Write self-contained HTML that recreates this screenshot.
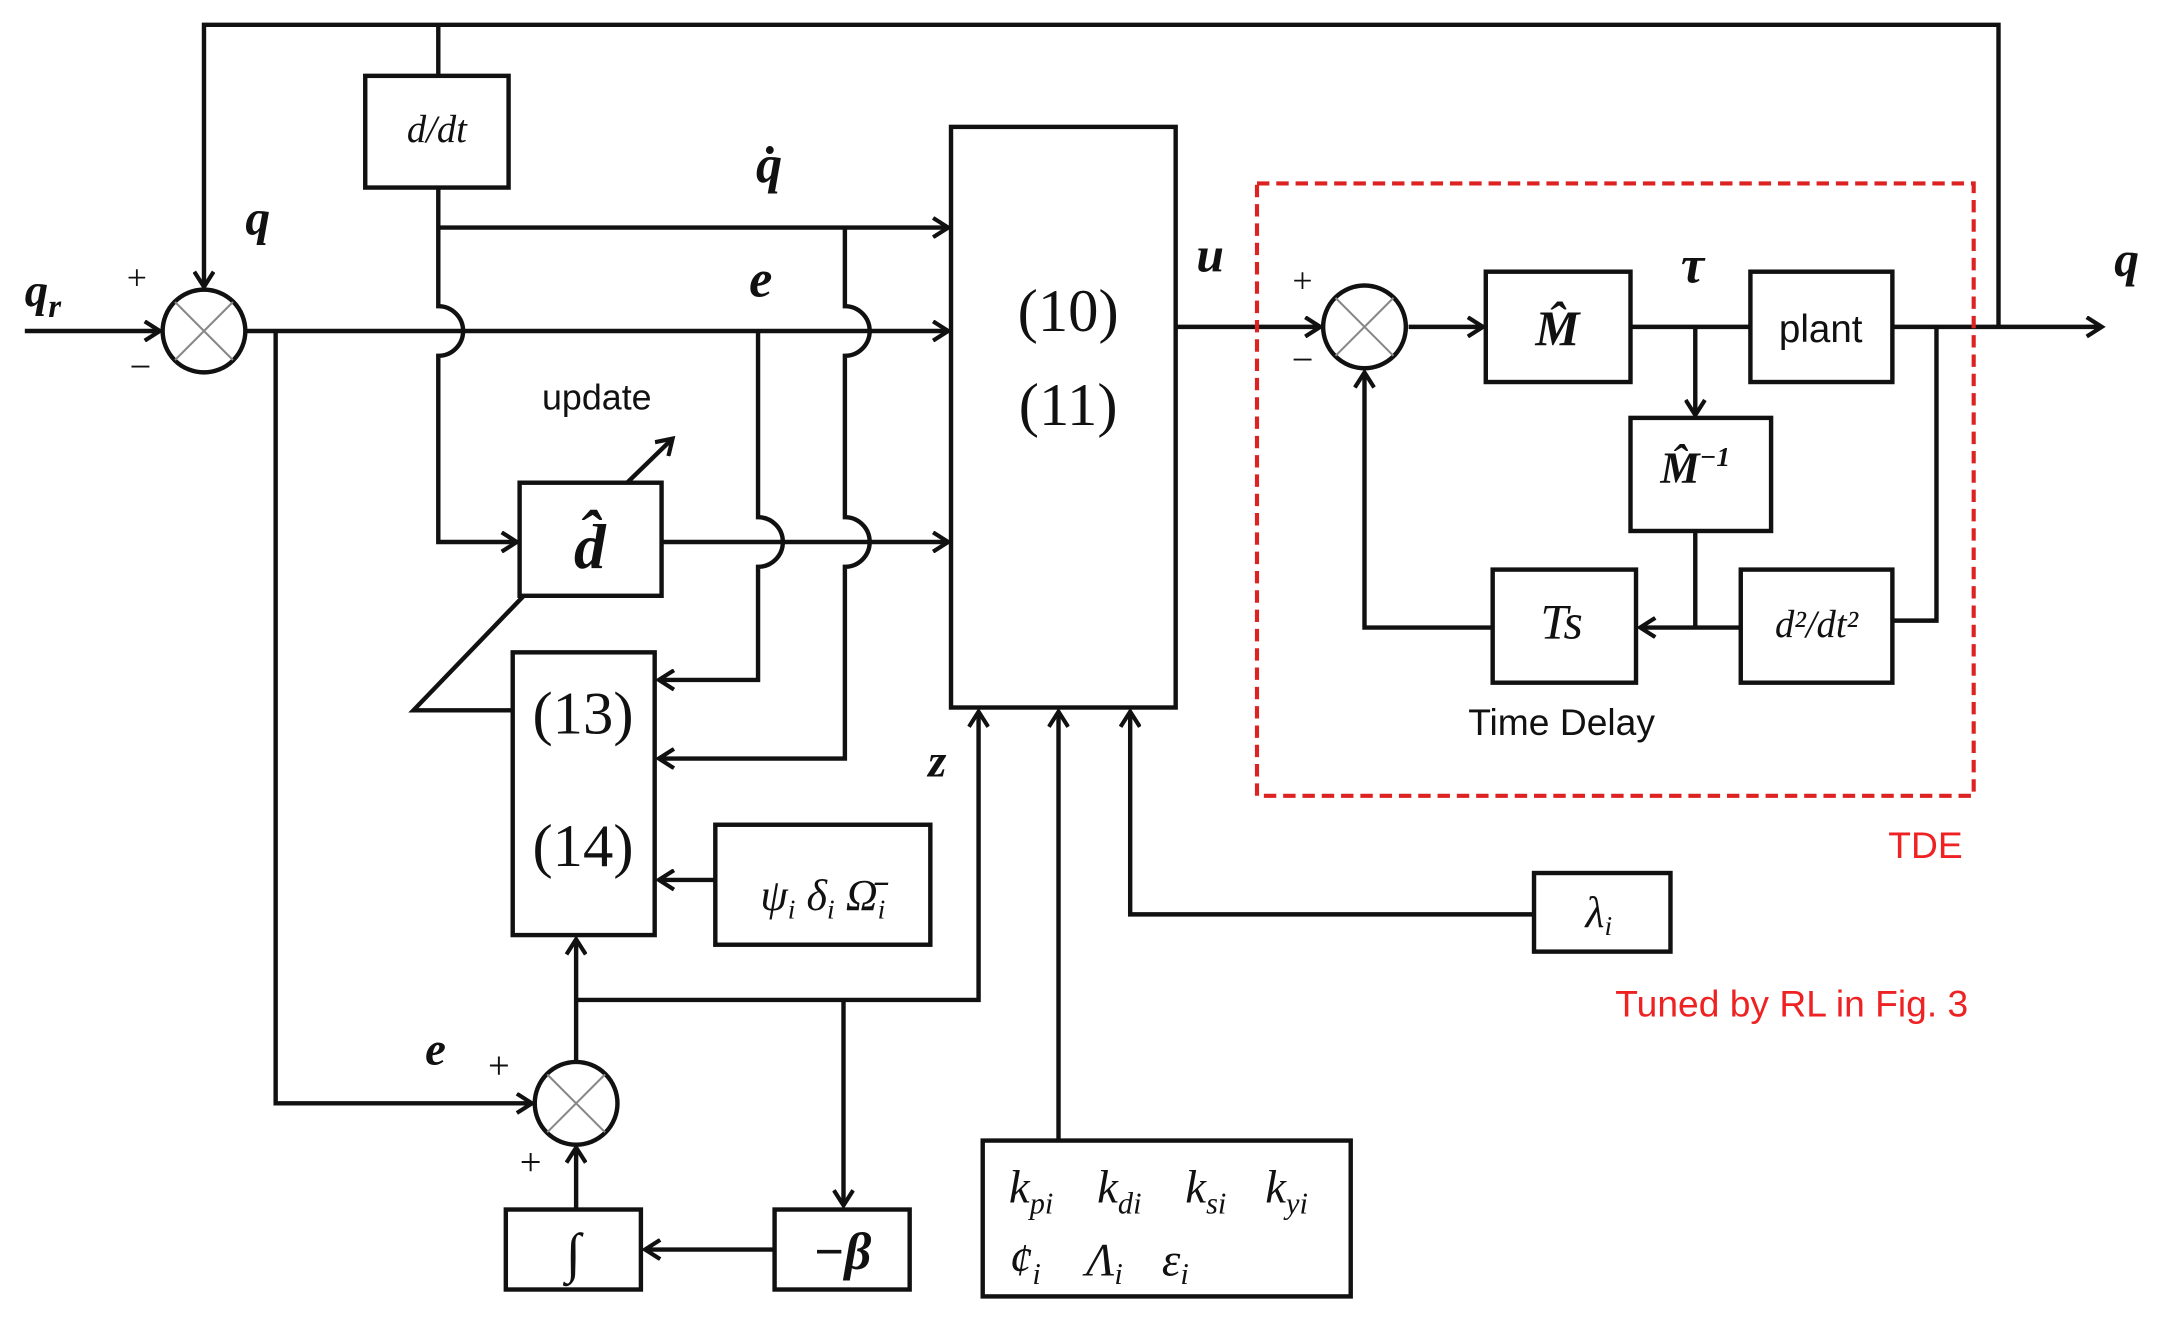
<!DOCTYPE html>
<html><head><meta charset="utf-8"><style>
html,body{margin:0;padding:0;background:#fff}
svg{display:block}
.m{font-family:"Liberation Serif",serif;font-style:italic;font-weight:bold}
.s{font-family:"Liberation Serif",serif}
.a{font-family:"Liberation Sans",sans-serif}
</style></head><body>
<svg width="2157" height="1324" viewBox="0 0 1565 960" preserveAspectRatio="none" xmlns="http://www.w3.org/2000/svg">
<defs><marker id="ar" markerWidth="16" markerHeight="16" refX="13" refY="8" orient="auto" markerUnits="userSpaceOnUse"><path d="M2,1 L13,8 L2,15" fill="none" stroke="#111" stroke-width="3"/></marker></defs>
<g fill="none" stroke="#111" stroke-width="3.2">
<polyline points="1450,237 1450,18 148,18 148,208" marker-end="url(#ar)"/>
<line x1="18" y1="240" x2="116" y2="240" marker-end="url(#ar)"/>
<line x1="318" y1="18" x2="318" y2="55"/>
<rect x="265" y="55" width="104" height="81"/>
<path d="M318,136 L318,222 A18,18 0 0 1 318,258 L318,393 L375,393" marker-end="url(#ar)"/>
<line x1="318" y1="165" x2="688" y2="165" marker-end="url(#ar)"/>
<path d="M613,165 L613,222 A18,18 0 0 1 613,258 L613,375 A18,18 0 0 1 613,411 L613,550 L478,550" marker-end="url(#ar)"/>
<line x1="178" y1="240" x2="688" y2="240" marker-end="url(#ar)"/>
<path d="M550,240 L550,375 A18,18 0 0 1 550,411 L550,493 L478,493" marker-end="url(#ar)"/>
<path d="M200,240 L200,800 L386,800" marker-end="url(#ar)"/>
<rect x="377" y="350" width="103" height="82"/>
<line x1="480" y1="393" x2="688" y2="393" marker-end="url(#ar)"/>
<line x1="455" y1="350" x2="488" y2="318" marker-end="url(#ar)"/>
<polyline points="380,432 300,515 372,515"/>
<rect x="372" y="473" width="103" height="205"/>
<rect x="519" y="598" width="156" height="87"/>
<line x1="519" y1="638" x2="478" y2="638" marker-end="url(#ar)"/>
<rect x="367" y="877" width="98" height="58"/>
<rect x="562" y="877" width="98" height="58"/>
<line x1="562" y1="906" x2="468" y2="906" marker-end="url(#ar)"/>
<line x1="418" y1="877" x2="418" y2="832" marker-end="url(#ar)"/>
<line x1="418" y1="770" x2="418" y2="681" marker-end="url(#ar)"/>
<polyline points="418,725 710,725 710,516" marker-end="url(#ar)"/>
<line x1="612" y1="725" x2="612" y2="874" marker-end="url(#ar)"/>
<rect x="690" y="92" width="163" height="421"/>
<rect x="713" y="827" width="267" height="113"/>
<line x1="768" y1="827" x2="768" y2="516" marker-end="url(#ar)"/>
<polyline points="1113,663 820,663 820,516" marker-end="url(#ar)"/>
<rect x="1113" y="633" width="99" height="57"/>
<line x1="853" y1="237" x2="958" y2="237" marker-end="url(#ar)"/>
<line x1="1022" y1="237" x2="1076" y2="237" marker-end="url(#ar)"/>
<rect x="1078" y="197" width="105" height="80"/>
<line x1="1183" y1="237" x2="1270" y2="237"/>
<rect x="1270" y="197" width="103" height="80"/>
<line x1="1373" y1="237" x2="1525" y2="237" marker-end="url(#ar)"/>
<line x1="1230" y1="237" x2="1230" y2="301" marker-end="url(#ar)"/>
<rect x="1183" y="303" width="102" height="82"/>
<line x1="1230" y1="385" x2="1230" y2="455"/>
<rect x="1263" y="413" width="110" height="82"/>
<line x1="1263" y1="455" x2="1190" y2="455" marker-end="url(#ar)"/>
<rect x="1083" y="413" width="104" height="82"/>
<polyline points="1083,455 990,455 990,270" marker-end="url(#ar)"/>
<polyline points="1405,237 1405,450 1373,450"/>
<circle cx="148" cy="240" r="30"/>
<circle cx="418" cy="800" r="30"/>
<circle cx="990" cy="237" r="30"/>
</g>
<g stroke="#888" stroke-width="1.5">
<path d="M127,219 L169,261 M169,219 L127,261"/>
<path d="M397,779 L439,821 M439,779 L397,821"/>
<path d="M969,216 L1011,258 M1011,216 L969,258"/>
</g>
<rect x="912" y="133" width="520" height="444" fill="none" stroke="#d22" stroke-width="3" stroke-dasharray="9,5"/>
<g fill="#111">
<text x="18" y="222" class="m" font-size="34">q<tspan font-size="24" dy="8">r</tspan></text>
<text x="92" y="210" class="s" font-size="26">+</text>
<text x="94" y="275" class="s" font-size="28">−</text>
<text x="178" y="170" class="m" font-size="36">q</text>
<text x="317" y="103" class="s" font-style="italic" font-size="28" text-anchor="middle">d/dt</text>
<text x="558" y="132" class="m" font-size="38" text-anchor="middle">q̇</text>
<text x="552" y="215" class="m" font-size="38" text-anchor="middle">e</text>
<text x="433" y="297" class="a" font-size="26" text-anchor="middle">update</text>
<text x="428" y="412" class="m" font-size="46" text-anchor="middle">d̂</text>
<text x="423" y="532" class="s" font-size="44" text-anchor="middle">(13)</text>
<text x="423" y="628" class="s" font-size="44" text-anchor="middle">(14)</text>
<text x="597" y="660" class="s" font-style="italic" font-size="32" text-anchor="middle">ψ<tspan font-size="20" dy="6">i</tspan><tspan dy="-6"> δ</tspan><tspan font-size="20" dy="6">i</tspan><tspan dy="-6"> Ω̄</tspan><tspan font-size="20" dy="6">i</tspan></text>
<text x="775" y="240" class="s" font-size="44" text-anchor="middle">(10)</text>
<text x="775" y="308" class="s" font-size="44" text-anchor="middle">(11)</text>
<text x="680" y="563" class="m" font-size="34" text-anchor="middle">z</text>
<text x="316" y="772" class="m" font-size="34" text-anchor="middle">e</text>
<text x="362" y="782" class="s" font-size="28" text-anchor="middle">+</text>
<text x="385" y="852" class="s" font-size="28" text-anchor="middle">+</text>
<text x="416" y="922" class="s" font-size="40" font-style="italic" text-anchor="middle">∫</text>
<text x="611" y="920" class="m" font-size="38" text-anchor="middle">−β</text>
<text x="732" y="872" class="s" font-style="italic" font-size="34">k<tspan font-size="22" dy="8">pi</tspan><tspan dy="-8" x="796">k</tspan><tspan font-size="22" dy="8">di</tspan><tspan dy="-8" x="860">k</tspan><tspan font-size="22" dy="8">si</tspan><tspan dy="-8" x="918">k</tspan><tspan font-size="22" dy="8">yi</tspan></text>
<text x="732" y="925" class="s" font-style="italic" font-size="34">ȼ<tspan font-size="22" dy="6">i</tspan><tspan dy="-6" x="788">Λ</tspan><tspan font-size="22" dy="6">i</tspan><tspan dy="-6" x="843">ε</tspan><tspan font-size="22" dy="6">i</tspan></text>
<text x="1160" y="672" class="s" font-style="italic" font-size="32" text-anchor="middle">λ<tspan font-size="20" dy="6">i</tspan></text>
<text x="878" y="197" class="m" font-size="36" text-anchor="middle">u</text>
<text x="945" y="212" class="s" font-size="26" text-anchor="middle">+</text>
<text x="945" y="270" class="s" font-size="28" text-anchor="middle">−</text>
<text x="1130" y="250" class="m" font-size="36" text-anchor="middle">M̂</text>
<text x="1228" y="205" class="m" font-size="38" text-anchor="middle">τ</text>
<text x="1321" y="248" class="a" font-size="28" text-anchor="middle">plant</text>
<text x="1543" y="200" class="m" font-size="36" text-anchor="middle">q</text>
<text x="1230" y="350" class="m" font-size="32" text-anchor="middle">M̂<tspan font-size="20" dy="-12">−1</tspan></text>
<text x="1318" y="462" class="s" font-style="italic" font-size="28" text-anchor="middle">d²/dt²</text>
<text x="1133" y="463" class="s" font-style="italic" font-size="36" text-anchor="middle">Ts</text>
<text x="1133" y="533" class="a" font-size="27" text-anchor="middle">Time Delay</text>
</g>
<g fill="#e22">
<text x="1397" y="622" font-size="27" text-anchor="middle" class="a">TDE</text>
<text x="1300" y="737" font-size="27" text-anchor="middle" class="a">Tuned by RL in Fig. 3</text>
</g>
</svg>
</body></html>
